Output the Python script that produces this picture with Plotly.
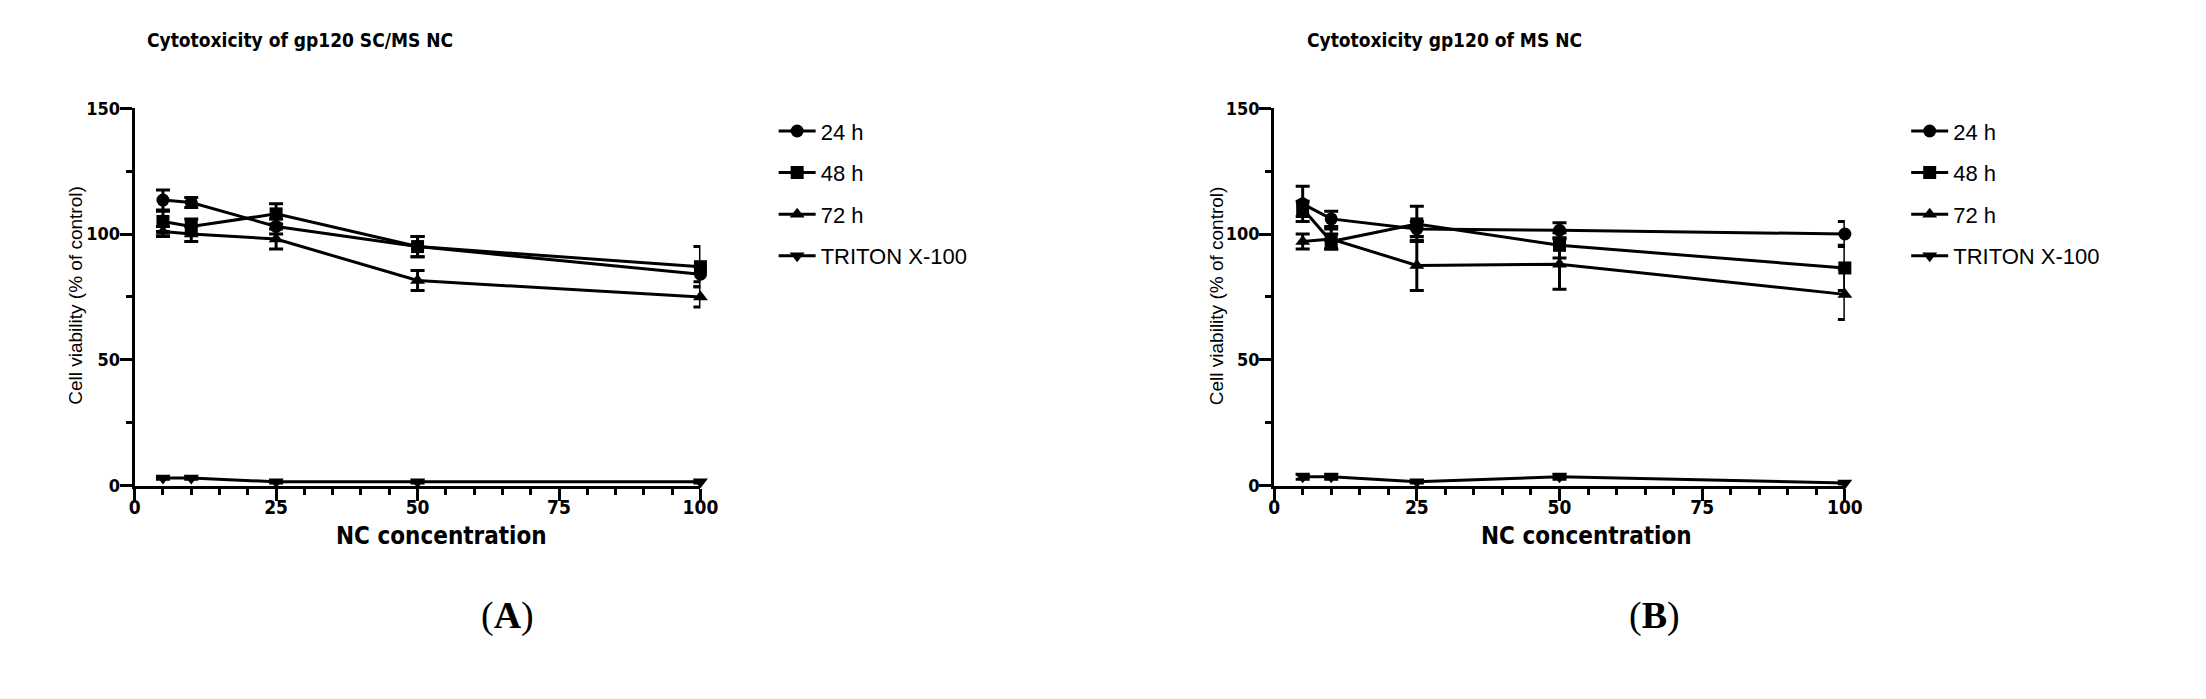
import plotly.graph_objects as go

# concentrations (x)
conc = [5, 10, 25, 50, 100]
series_names = ["24 h", "48 h", "72 h", "TRITON X-100"]

# panel A: gp120 SC/MS NC
a_24h = [113.5, 112.5, 103, 95, 84]
a_24h_err = [4, 2, 3, 4, 3]
a_48h = [105, 103, 108, 95, 87]
a_48h_err = [4, 3, 4, 4, 8]
a_72h = [101, 100, 98, 81.5, 75]
a_72h_err = [2, 3, 4, 4, 4]
a_triton = [3, 3, 1.5, 1.5, 1.5]
a_triton_err = [0.5, 0.5, 0.5, 0.5, 0.5]

# panel B: gp120 of MS NC
b_24h = [112, 106, 102, 101.5, 100]
b_24h_err = [7, 3, 3, 3, 5]
b_48h = [110, 97, 104, 95.5, 86.5]
b_48h_err = [3, 3, 7, 5, 9]
b_72h = [97, 98, 87.5, 88, 76]
b_72h_err = [3, 4, 10, 10, 10]
b_triton = [3.5, 3.5, 1.5, 3.5, 1]
b_triton_err = [1, 1, 0.5, 1, 0.5]

x_ticks = [0, 25, 50, 75, 100]
y_ticks = [0, 50, 100, 150]

W, H = 2206, 699
NARROW = "Liberation Sans Narrow, DejaVu Sans Condensed, Arial Narrow, sans-serif"
SANS = "Liberation Sans, Arial, sans-serif"
SERIF = "Liberation Serif, Times New Roman, serif"

symbols = ["circle", "square", "triangle-up", "triangle-down"]

fig = go.Figure()


def add_panel(values, errors, xaxis, yaxis, legend):
    for i, (name, y, err) in enumerate(zip(series_names, values, errors)):
        fig.add_trace(
            go.Scatter(
                x=conc,
                y=y,
                name=name,
                mode="lines+markers",
                line=dict(color="black", width=3),
                marker=dict(symbol=symbols[i], size=13, color="black"),
                error_y=dict(type="data", array=err, color="black", thickness=3, width=7),
                xaxis=xaxis,
                yaxis=yaxis,
                legend=legend,
                legendgroup=legend + name,
                cliponaxis=False,
            )
        )


add_panel([a_24h, a_48h, a_72h, a_triton],
          [a_24h_err, a_48h_err, a_72h_err, a_triton_err], "x", "y", "legend")
add_panel([b_24h, b_48h, b_72h, b_triton],
          [b_24h_err, b_48h_err, b_72h_err, b_triton_err], "x2", "y2", "legend2")


def px(x):
    return x / W


def py(y):
    return (H - y) / H


x_common = dict(
    range=[0, 100],
    tickvals=x_ticks,
    showline=True, linecolor="black", linewidth=3,
    ticks="outside", ticklen=12, tickwidth=3, tickcolor="black",
    minor=dict(dtick=5, ticks="outside", ticklen=6, tickwidth=2.5, tickcolor="black"),
    showgrid=False, zeroline=False,
    tickfont=dict(family=NARROW, size=19, color="black", weight="bold"),
    ticklabelstandoff=-9,
    fixedrange=True,
)
y_common = dict(
    range=[0, 150],
    tickvals=y_ticks,
    showline=True, linecolor="black", linewidth=3,
    ticks="outside", ticklen=12, tickwidth=3, tickcolor="black",
    minor=dict(dtick=25, ticks="outside", ticklen=6, tickwidth=2.5, tickcolor="black"),
    showgrid=False, zeroline=False,
    tickfont=dict(family=NARROW, size=18, color="black", weight="bold"),
    ticklabelstandoff=-4,
    domain=[py(481), py(92)],
    fixedrange=True,
)

legend_common = dict(
    font=dict(family=SANS, size=22, color="black"),
    bgcolor="rgba(0,0,0,0)",
    traceorder="grouped",
    tracegroupgap=10,
    itemwidth=37,
    xanchor="left", yanchor="top",
)

fig.update_layout(
    width=W, height=H,
    margin=dict(l=0, r=0, t=0, b=0),
    paper_bgcolor="white", plot_bgcolor="white",
    showlegend=True,
    xaxis=dict(x_common, domain=[px(122), px(694)], anchor="y"),
    yaxis=dict(y_common, anchor="x"),
    xaxis2=dict(x_common, domain=[px(1274), px(1851)], anchor="y2"),
    yaxis2=dict(y_common, anchor="x2"),
    legend=dict(legend_common, x=px(768), y=py(94)),
    legend2=dict(legend_common, x=px(1913), y=py(94)),
)

annotations = [
    # panel titles
    dict(text="<b>Cytotoxicity of gp120 SC/MS NC</b>", x=px(289), y=py(22),
         font=dict(family=NARROW, size=19, color="black")),
    dict(text="<b>Cytotoxicity gp120 of MS NC</b>", x=px(1446), y=py(22),
         font=dict(family=NARROW, size=19, color="black")),
    # x axis titles
    dict(text="<b>NC concentration</b>", x=px(432), y=py(533),
         font=dict(family=NARROW, size=24, color="black")),
    dict(text="<b>NC concentration</b>", x=px(1590), y=py(533),
         font=dict(family=NARROW, size=24, color="black")),
    # y axis titles
    dict(text="Cell viability (% of control)", x=px(62), y=py(285), textangle=-90,
         font=dict(family=SANS, size=19, color="black")),
    dict(text="Cell viability (% of control)", x=px(1216), y=py(285), textangle=-90,
         font=dict(family=SANS, size=19, color="black")),
    # panel letters
    dict(text="(<b>A</b>)", x=px(499), y=py(615),
         font=dict(family=SERIF, size=38, color="black")),
    dict(text="(<b>B</b>)", x=px(1659), y=py(615),
         font=dict(family=SERIF, size=38, color="black")),
]
for a in annotations:
    a.update(xref="paper", yref="paper", showarrow=False, xanchor="center", yanchor="middle")
fig.update_layout(annotations=annotations)

fig.write_html("out.html")
